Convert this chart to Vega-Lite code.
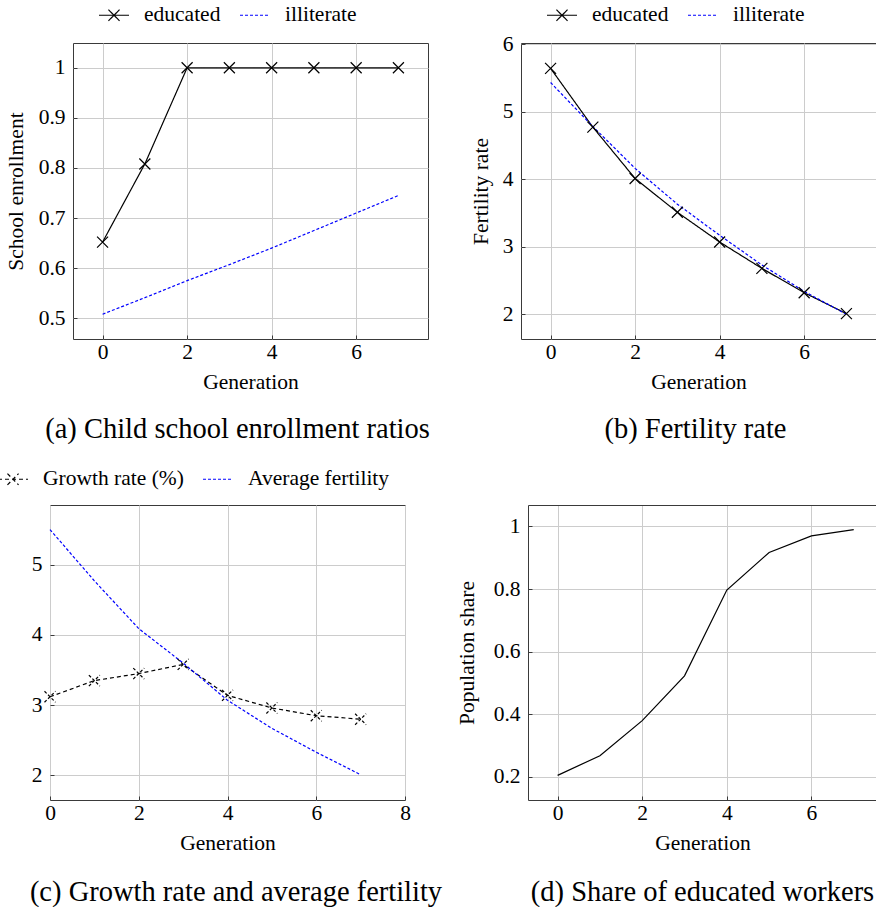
{
  "$schema": "https://vega.github.io/schema/vega-lite/v6.json",
  "padding": {"left": -4, "top": -2, "right": 0, "bottom": 0},
  "background": "white",
  "datasets": {
    "enroll": [
      {"gen": 0, "series": "educated", "value": 0.652},
      {"gen": 1, "series": "educated", "value": 0.808},
      {"gen": 2, "series": "educated", "value": 1.0},
      {"gen": 3, "series": "educated", "value": 1.0},
      {"gen": 4, "series": "educated", "value": 1.0},
      {"gen": 5, "series": "educated", "value": 1.0},
      {"gen": 6, "series": "educated", "value": 1.0},
      {"gen": 7, "series": "educated", "value": 1.0},
      {"gen": 0, "series": "illiterate", "value": 0.508},
      {"gen": 1, "series": "illiterate", "value": 0.541},
      {"gen": 2, "series": "illiterate", "value": 0.575},
      {"gen": 3, "series": "illiterate", "value": 0.607},
      {"gen": 4, "series": "illiterate", "value": 0.640},
      {"gen": 5, "series": "illiterate", "value": 0.675},
      {"gen": 6, "series": "illiterate", "value": 0.710},
      {"gen": 7, "series": "illiterate", "value": 0.745}
    ],
    "fert": [
      {"gen": 0, "series": "educated", "value": 5.64},
      {"gen": 1, "series": "educated", "value": 4.77},
      {"gen": 2, "series": "educated", "value": 4.01},
      {"gen": 3, "series": "educated", "value": 3.51},
      {"gen": 4, "series": "educated", "value": 3.07},
      {"gen": 5, "series": "educated", "value": 2.68},
      {"gen": 6, "series": "educated", "value": 2.32},
      {"gen": 7, "series": "educated", "value": 2.01},
      {"gen": 0, "series": "illiterate", "value": 5.43},
      {"gen": 1, "series": "illiterate", "value": 4.78},
      {"gen": 2, "series": "illiterate", "value": 4.16},
      {"gen": 3, "series": "illiterate", "value": 3.63},
      {"gen": 4, "series": "illiterate", "value": 3.17},
      {"gen": 5, "series": "illiterate", "value": 2.73},
      {"gen": 6, "series": "illiterate", "value": 2.34},
      {"gen": 7, "series": "illiterate", "value": 2.0}
    ],
    "growth": [
      {"gen": 0, "series": "Growth rate (%)", "value": 3.12},
      {"gen": 1, "series": "Growth rate (%)", "value": 3.35},
      {"gen": 2, "series": "Growth rate (%)", "value": 3.45},
      {"gen": 3, "series": "Growth rate (%)", "value": 3.58},
      {"gen": 4, "series": "Growth rate (%)", "value": 3.14},
      {"gen": 5, "series": "Growth rate (%)", "value": 2.96},
      {"gen": 6, "series": "Growth rate (%)", "value": 2.85},
      {"gen": 7, "series": "Growth rate (%)", "value": 2.80},
      {"gen": 0, "series": "Average fertility", "value": 5.5},
      {"gen": 1, "series": "Average fertility", "value": 4.77},
      {"gen": 2, "series": "Average fertility", "value": 4.09},
      {"gen": 3, "series": "Average fertility", "value": 3.6},
      {"gen": 4, "series": "Average fertility", "value": 3.07},
      {"gen": 5, "series": "Average fertility", "value": 2.67},
      {"gen": 6, "series": "Average fertility", "value": 2.33},
      {"gen": 7, "series": "Average fertility", "value": 2.01}
    ],
    "share": [
      {"gen": 0, "value": 0.205},
      {"gen": 1, "value": 0.268},
      {"gen": 2, "value": 0.38},
      {"gen": 3, "value": 0.523},
      {"gen": 4, "value": 0.797},
      {"gen": 5, "value": 0.917},
      {"gen": 6, "value": 0.97},
      {"gen": 7, "value": 0.99}
    ]
  },
  "spacing": 18,
  "resolve": {"scale": {"color": "independent", "strokeDash": "independent"}, "legend": {"color": "independent", "strokeDash": "independent"}},
  "vconcat": [
    {
      "bounds": "flush",
      "spacing": 0,
      "resolve": {"scale": {"color": "independent", "strokeDash": "independent"}, "legend": {"color": "independent", "strokeDash": "independent"}},
      "hconcat": [
        {
          "width": 23,
          "height": 10,
          "view": {"stroke": null},
          "data": {"values": []},
          "mark": {"type": "point"}
        },
        {
          "bounds": "flush",
          "spacing": 93,
          "resolve": {"scale": {"color": "independent", "strokeDash": "independent"}, "legend": {"color": "independent", "strokeDash": "independent"}},
          "hconcat": [
            {
              "width": 355,
              "height": 296,
              "title": {"text": "(a) Child school enrollment ratios", "orient": "bottom", "anchor": "middle", "frame": "group", "dx": -13, "offset": 22},
              "data": {"name": "enroll"},
              "layer": [
                {
                  "mark": {"type": "line", "strokeWidth": 1.2},
                  "encoding": {
                    "x": {"field": "gen", "type": "quantitative", "scale": {"domain": [-0.7, 7.7], "nice": false, "zero": false}, "axis": {"values": [0, 2, 4, 6], "title": "Generation"}},
                    "y": {"field": "value", "type": "quantitative", "scale": {"domain": [0.4585, 1.0495], "nice": false, "zero": false}, "axis": {"values": [0.5, 0.6, 0.7, 0.8, 0.9, 1], "format": "~g", "title": "School enrollment", "titlePadding": 11}},
                    "color": {"field": "series", "type": "nominal", "scale": {"domain": ["educated", "illiterate"], "range": ["black", "blue"]},
                      "legend": {"orient": "none", "legendX": 25, "legendY": -44, "direction": "horizontal", "title": null,
                        "encode": {"symbols": {"update": {
                          "shape": {"signal": "datum.value === 'educated' ? 'M-1,0H1M-0.37,-0.37L0.37,0.37M-0.37,0.37L0.37,-0.37' : 'M-1,0H1'"},
                          "strokeDash": {"signal": "datum.value === 'educated' ? [1,0] : [3,2]"},
                          "fill": {"value": "transparent"}}}}}},
                    "strokeDash": {"field": "series", "type": "nominal", "scale": {"domain": ["educated", "illiterate"], "range": [[1, 0], [3, 2]]}, "legend": null}
                  }
                },
                {
                  "transform": [{"filter": "datum.series === 'educated'"}],
                  "mark": {"type": "point", "shape": "M-1,-1L1,1M-1,1L1,-1", "size": 121, "stroke": "black", "strokeWidth": 1.2, "filled": false, "opacity": 1},
                  "encoding": {
                    "x": {"field": "gen", "type": "quantitative"},
                    "y": {"field": "value", "type": "quantitative"}
                  }
                }
              ]
            },
            {
              "width": 355,
              "height": 296,
              "title": {"text": "(b) Fertility rate", "orient": "bottom", "anchor": "middle", "frame": "group", "dx": -3, "offset": 22},
              "data": {"name": "fert"},
              "layer": [
                {
                  "mark": {"type": "line", "strokeWidth": 1.2},
                  "encoding": {
                    "x": {"field": "gen", "type": "quantitative", "scale": {"domain": [-0.7, 7.7], "nice": false, "zero": false}, "axis": {"values": [0, 2, 4, 6], "title": "Generation"}},
                    "y": {"field": "value", "type": "quantitative", "scale": {"domain": [1.635, 6.015], "nice": false, "zero": false}, "axis": {"values": [2, 3, 4, 5, 6], "format": "~g", "title": "Fertility rate", "titlePadding": 10}},
                    "color": {"field": "series", "type": "nominal", "scale": {"domain": ["educated", "illiterate"], "range": ["black", "blue"]},
                      "legend": {"orient": "none", "legendX": 25, "legendY": -44, "direction": "horizontal", "title": null,
                        "encode": {"symbols": {"update": {
                          "shape": {"signal": "datum.value === 'educated' ? 'M-1,0H1M-0.37,-0.37L0.37,0.37M-0.37,0.37L0.37,-0.37' : 'M-1,0H1'"},
                          "strokeDash": {"signal": "datum.value === 'educated' ? [1,0] : [3,2]"},
                          "fill": {"value": "transparent"}}}}}},
                    "strokeDash": {"field": "series", "type": "nominal", "scale": {"domain": ["educated", "illiterate"], "range": [[1, 0], [3, 2]]}, "legend": null}
                  }
                },
                {
                  "transform": [{"filter": "datum.series === 'educated'"}],
                  "mark": {"type": "point", "shape": "M-1,-1L1,1M-1,1L1,-1", "size": 121, "stroke": "black", "strokeWidth": 1.2, "filled": false, "opacity": 1},
                  "encoding": {
                    "x": {"field": "gen", "type": "quantitative"},
                    "y": {"field": "value", "type": "quantitative"}
                  }
                }
              ]
            }
          ]
        }
      ]
    },
    {
      "bounds": "flush",
      "spacing": 123,
      "resolve": {"scale": {"color": "independent", "strokeDash": "independent"}, "legend": {"color": "independent", "strokeDash": "independent"}},
      "hconcat": [
        {
          "width": 355,
          "height": 295,
          "title": {"text": "(c) Growth rate and average fertility", "orient": "bottom", "anchor": "middle", "frame": "group", "dx": 8.5, "offset": 24},
          "data": {"name": "growth"},
          "layer": [
            {
              "mark": {"type": "line", "strokeWidth": 1.2},
              "encoding": {
                "x": {"field": "gen", "type": "quantitative", "scale": {"domain": [0, 8], "nice": false, "zero": false}, "axis": {"values": [0, 2, 4, 6, 8], "title": "Generation"}},
                "y": {"field": "value", "type": "quantitative", "scale": {"domain": [1.65, 5.85], "nice": false, "zero": false}, "axis": {"values": [2, 3, 4, 5], "format": "~g", "title": null}},
                "color": {"field": "series", "type": "nominal", "scale": {"domain": ["Growth rate (%)", "Average fertility"], "range": ["black", "blue"]},
                  "legend": {"orient": "none", "legendX": -53, "legendY": -42, "direction": "horizontal", "title": null,
                    "encode": {"symbols": {"update": {
                      "shape": {"signal": "datum.value === 'Growth rate (%)' ? 'M-1,0H1M-0.37,-0.37L0.37,0.37M-0.37,0.37L0.37,-0.37' : 'M-1,0H1'"},
                      "strokeDash": {"signal": "datum.value === 'Growth rate (%)' ? [4,3] : [3,2]"},
                      "fill": {"value": "transparent"}}}}}},
                "strokeDash": {"field": "series", "type": "nominal", "scale": {"domain": ["Growth rate (%)", "Average fertility"], "range": [[4, 3], [3, 2]]}, "legend": null}
              }
            },
            {
              "transform": [{"filter": "datum.series === 'Growth rate (%)'"}],
              "mark": {"type": "point", "shape": "M-1,-1L1,1M-1,1L1,-1", "size": 121, "stroke": "black", "strokeWidth": 1.2, "strokeDash": [3, 2], "filled": false, "opacity": 1},
              "encoding": {
                "x": {"field": "gen", "type": "quantitative"},
                "y": {"field": "value", "type": "quantitative"}
              }
            }
          ]
        },
        {
          "width": 349,
          "height": 295,
          "view": {"stroke": null},
          "title": {"text": "(d) Share of educated workers", "orient": "bottom", "anchor": "middle", "frame": "group", "dx": 0, "offset": 24},
          "data": {"name": "share"},
          "resolve": {"axis": {"x": "independent"}},
          "layer": [
            {
              "mark": {"type": "line", "strokeWidth": 1.2, "color": "black"},
              "encoding": {
                "x": {"field": "gen", "type": "quantitative", "scale": {"domain": [-0.7, 7.55], "nice": false, "zero": false}, "axis": {"values": [0, 2, 4, 6], "title": "Generation", "domain": true}},
                "y": {"field": "value", "type": "quantitative", "scale": {"domain": [0.1265, 1.0685], "nice": false, "zero": false}, "axis": {"values": [0.2, 0.4, 0.6, 0.8, 1], "format": "~g", "title": "Population share", "titlePadding": 15, "domain": true}}
              }
            },
            {
              "mark": {"type": "line", "strokeWidth": 1.2, "color": "black", "strokeOpacity": 0},
              "encoding": {
                "x": {"field": "gen", "type": "quantitative", "axis": {"orient": "top", "labels": false, "grid": false, "ticks": false, "title": null, "domain": true, "values": []}},
                "y": {"field": "value", "type": "quantitative"}
              }
            }
          ]
        }
      ]
    }
  ],
  "config": {
    "font": "Liberation Serif",
    "view": {"stroke": "#3a3a3a", "strokeWidth": 1},
    "axis": {
      "labelFont": "Liberation Serif", "labelFontSize": 21.5, "labelColor": "black",
      "titleFont": "Liberation Serif", "titleFontSize": 21.5, "titleFontWeight": "normal", "titleColor": "black",
      "grid": true, "gridColor": "#cccccc", "gridWidth": 1,
      "domain": false, "domainColor": "#3a3a3a", "domainWidth": 1,
      "ticks": true, "tickSize": -4, "tickColor": "#3a3a3a", "tickWidth": 1,
      "labelPadding": 6, "titlePadding": 6, "labelFlush": false, "labelOverlap": false
    },
    "axisX": {"labelPadding": 6, "titlePadding": 9},
    "axisY": {"labelPadding": 12},
    "legend": {
      "labelFont": "Liberation Serif", "labelFontSize": 21.5, "labelColor": "black",
      "symbolSize": 900, "symbolStrokeWidth": 1.2, "labelOffset": 14, "columnPadding": 16, "padding": 0
    },
    "title": {"font": "Liberation Serif", "fontSize": 28.5, "fontWeight": "normal", "color": "black"}
  }
}
